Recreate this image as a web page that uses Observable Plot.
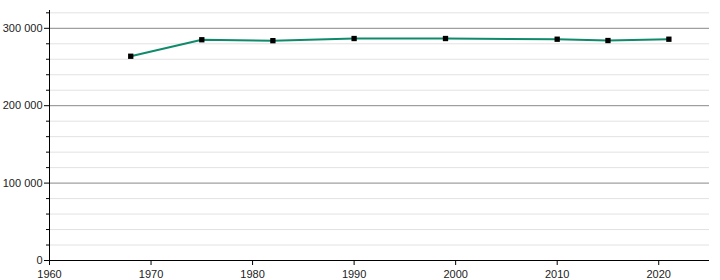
<!DOCTYPE html>
<html><head><meta charset="utf-8">
<script src="https://cdn.jsdelivr.net/npm/d3@7"></script>
<script src="https://cdn.jsdelivr.net/npm/@observablehq/plot@0.6"></script>
<style>body{margin:0;background:#fff;} svg{display:block;font-family:"Liberation Sans",Arial,sans-serif;}</style>
</head><body><div id="chart"></div>
<script>
const years = [1968, 1975, 1982, 1990, 1999, 2010, 2015, 2021];
const population = [263900, 285200, 284000, 286800, 286800, 285900, 284200, 285900];
const xTicks = [1960, 1970, 1980, 1990, 2000, 2010, 2020];
const yMajor = [0, 100000, 200000, 300000];
const yMinor = [20000, 40000, 60000, 80000, 120000, 140000, 160000, 180000, 220000, 240000, 260000, 280000, 320000];

const data = years.map((y, i) => ({year: y, value: population[i]}));
const fmt = d3.formatLocale({thousands: " ", grouping: [3], decimal: ",", currency: ["", ""]}).format(",d");

const chart = Plot.plot({
  width: 720, height: 280,
  marginLeft: 49, marginRight: 11, marginTop: 10, marginBottom: 20,
  style: {fontSize: "11px", color: "#222", fontFamily: "'Liberation Sans', Arial, sans-serif"},
  x: {domain: [1960, 2025], label: null},
  y: {domain: [0, 323000], label: null},
  marks: [
    Plot.ruleY(yMinor, {stroke: "#e2e2e2", strokeWidth: 1}),
    Plot.ruleY(yMajor.filter(d => d > 0), {stroke: "#888", strokeWidth: 1}),
    Plot.axisY({ticks: yMinor, tickFormat: () => "", tickSize: 3, stroke: "#000", label: null}),
    Plot.axisY({ticks: yMajor, tickFormat: fmt, tickSize: 5, tickPadding: 2, stroke: "#000", fill: "#222", label: null}),
    Plot.axisX({ticks: xTicks, tickFormat: "d", tickSize: 5, tickPadding: 5, stroke: "#000", fill: "#222", label: null}),
    Plot.ruleX([1960], {stroke: "#000"}),
    Plot.ruleY([0], {stroke: "#000"}),
    Plot.line(data, {x: "year", y: "value", stroke: "#0f8a6a", strokeWidth: 2}),
    Plot.dot(data, {x: "year", y: "value", symbol: "square", r: 3, fill: "#000", stroke: "none"})
  ]
});
document.getElementById("chart").appendChild(chart);
</script></body></html>
